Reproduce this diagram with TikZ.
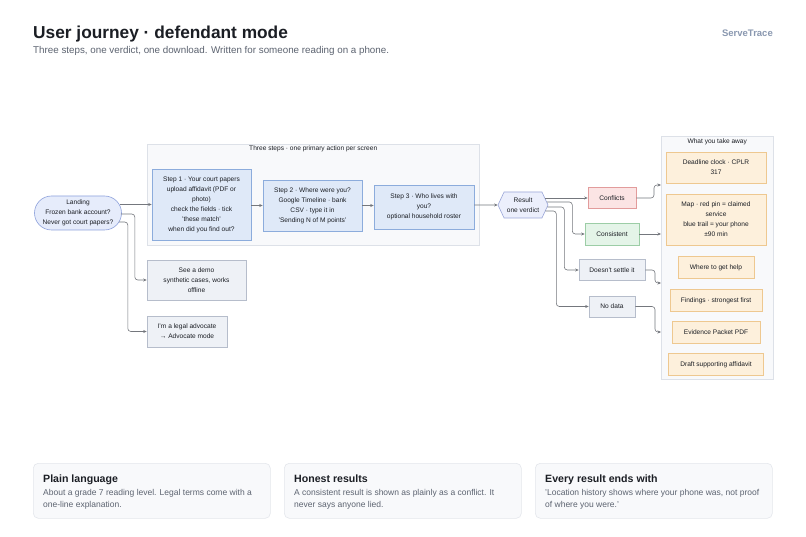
\documentclass[tikz,border=0pt]{standalone}
\usepackage{fontspec}
\setmainfont{Liberation Sans}
\usetikzlibrary{positioning,arrows.meta,calc,shapes.symbols}

\definecolor{ink}{HTML}{1B1E24}
\definecolor{subgrey}{HTML}{5C6370}
\definecolor{brand}{HTML}{8A98B0}
\definecolor{arrowc}{HTML}{74777D}
\definecolor{groupfill}{HTML}{F8F9FB}
\definecolor{groupline}{HTML}{DDE1E8}
\definecolor{landfill}{HTML}{E6ECFB}
\definecolor{landline}{HTML}{8EA2DC}
\definecolor{stepfill}{HTML}{DFE9F8}
\definecolor{stepline}{HTML}{8CACDC}
\definecolor{resfill}{HTML}{ECEFFC}
\definecolor{resline}{HTML}{9AA6D8}
\definecolor{redfill}{HTML}{FBE4E4}
\definecolor{redline}{HTML}{E29C9C}
\definecolor{greenfill}{HTML}{E4F4E8}
\definecolor{greenline}{HTML}{9CCDA6}
\definecolor{greyfill}{HTML}{EEF1F6}
\definecolor{greyline}{HTML}{B6BDCB}
\definecolor{takefill}{HTML}{FDF0DC}
\definecolor{takeline}{HTML}{EEC890}
\definecolor{cardline}{HTML}{E4E7EC}

\tikzset{
  box/.style={draw, line width=0.6pt, text=ink, align=center, inner sep=1pt,
    font=\fontsize{6.6}{10}\selectfont},
  stepbox/.style={box, fill=stepfill, draw=stepline},
  neutral/.style={box, fill=greyfill, draw=greyline},
  takebox/.style={box, fill=takefill, draw=takeline},
  group/.style={draw=groupline, fill=groupfill, line width=0.5pt, inner sep=0},
  grouplbl/.style={text=ink, inner sep=0, font=\fontsize{6.6}{8}\selectfont},
  flow/.style={draw=arrowc, line width=0.6pt, rounded corners=3pt,
    -{Stealth[length=3.5pt,width=3pt]}},
  card/.style={draw=cardline, fill=groupfill, rounded corners=5pt, line width=0.6pt}
}

\begin{document}
\begin{tikzpicture}[x=1pt,y=-1pt]
  \useasboundingbox[fill=white] (0,0) rectangle (806,537);

  \node[anchor=base west, inner sep=0, text=ink, font=\fontsize{17.3}{20}\selectfont\bfseries] (title) at (33,39) {User journey · defendant mode};
  \node[anchor=base west, inner sep=0, text=subgrey, font=\fontsize{9.8}{11}\selectfont] (subtitle) at (33,54) {Three steps, one verdict, one download. Written for someone reading on a phone.};
  \node[anchor=base east, inner sep=0, text=brand, font=\fontsize{9.5}{11}\selectfont\bfseries] (brand) at (773,37) {ServeTrace};

  \node[group, anchor=north west, minimum width=332, minimum height=101] (steps) at (147,144) {};
  \node[grouplbl] (stepslbl) at ($(steps.north)+(0,5)$) {Three steps · one primary action per screen};
  \node[group, anchor=north west, minimum width=112, minimum height=243] (take) at (661,136) {};
  \node[grouplbl] (takelbl) at ($(take.north)+(0,6)$) {What you take away};

  \node[box, rounded corners=17pt, fill=landfill, draw=landline, minimum width=87, minimum height=34] (landing) at (78,213) {Landing\\Frozen bank account?\\Never got court papers?};
  \node[stepbox, minimum width=99, minimum height=71] (step1) at (201.5,204.5) {Step 1 · Your court papers\\upload affidavit (PDF or\\photo)\\check the fields · tick\\'these match'\\when did you find out?};
  \node[stepbox, minimum width=99, minimum height=51] (step2) at (312.5,205.5) {Step 2 · Where were you?\\Google Timeline · bank\\CSV · type it in\\'Sending N of M points'};
  \node[stepbox, minimum width=100, minimum height=44] (step3) at (424,207) {Step 3 · Who lives with\\you?\\optional household roster};
  \node[box, signal, signal to=west and east, signal pointer angle=130, fill=resfill, draw=resline, minimum width=50, minimum height=26] (result) at (523,205) {Result\\one verdict};

  \node[box, fill=redfill, draw=redline, minimum width=48, minimum height=21] (conflicts) at (612,198) {Conflicts};
  \node[box, fill=greenfill, draw=greenline, minimum width=54, minimum height=22] (consistent) at (612,234) {Consistent};
  \node[neutral, minimum width=66, minimum height=21] (unsure) at (612,270) {Doesn't settle it};
  \node[neutral, minimum width=46, minimum height=21] (nodata) at (612,306.5) {No data};

  \node[neutral, minimum width=99, minimum height=40] (demo) at (196.5,280) {See a demo\\synthetic cases, works\\offline};
  \node[neutral, minimum width=80, minimum height=31] (advocate) at (187,331.5) {I'm a legal advocate\\→ Advocate mode};

  \node[takebox, minimum width=100, minimum height=31] (deadline) at (716,167.5) {Deadline clock · CPLR\\317};
  \node[takebox, minimum width=100, minimum height=51] (map) at (716,219.5) {Map · red pin = claimed\\service\\blue trail = your phone\\±90 min};
  \foreach \n/\y/\w/\t in {help/267.5/76/Where to get help, findings/300.5/92/Findings · strongest first,
      packet/332.5/88/Evidence Packet PDF, draft/364.5/95/Draft supporting affidavit}{
    \node[takebox, minimum width=\w, minimum height=22] (\n) at (716,\y) {\t};
  }

  \draw[flow, shorten <=-2pt] (landing.east |- step1) -- (step1);
  \draw[flow] ($(landing.east)+(-1,1)$) -- ++(14,0) |- (demo);
  \draw[flow] ($(landing.east)+(-3,9)$) -- ++(9,0) |- (advocate);
  \draw[flow] (step1.east |- step2) -- (step2);
  \draw[flow] (step2.east) -- (step2.east -| step3.west);
  \draw[flow] (step3.east |- result) -- (result);

  \draw[flow] ($(result.east |- conflicts)+(-3,0)$) -- (conflicts);
  \draw[flow] ($(result.east)+(-1.5,-3)$) -- ++(25.5,0) |- (consistent);
  \draw[flow] ($(result.east)+(-1,2)$) -- ++(17,0) |- (unsure);
  \draw[flow] ($(result.east)+(-3,6)$) -- ++(11,0) |- (nodata);

  \foreach \i in {1,...,4}
    \coordinate (in\i) at ($(take.north west)+(0,49*\i)$);
  \draw[flow] (conflicts.east) -| ($(in1)+(-7,0)$) -- (in1);
  \draw[flow] (consistent.east) -- (in2);
  \draw[flow] (unsure.east) -| ($(in3)+(-6,0)$) -- (in3);
  \draw[flow] (nodata.east) -| ($(in4)+(-6,0)$) -- (in4);

  \foreach \x/\t/\b [count=\i] in {33/Plain language/{About a grade 7 reading level. Legal terms come with a\\one-line explanation.},
      284/Honest results/{A consistent result is shown as plainly as a conflict. It\\never says anyone lied.},
      535/Every result ends with/{'Location history shows where your phone was, not proof\\of where you were.'}}{
    \node[card, anchor=north west, minimum width=237, minimum height=55, inner sep=0] (card\i) at (\x,463) {};
    \node[anchor=base west, inner sep=0, text=ink, font=\fontsize{10.6}{12}\selectfont\bfseries] (cardtitle\i) at ($(card\i.north west)+(10,19)$) {\t};
    \node[anchor=north west, inner sep=0, align=left, text=subgrey, font=\fontsize{8.5}{12}\selectfont] (cardtext\i) at ($(card\i.north west)+(10,26)$) {\b};
  }
\end{tikzpicture}
\end{document}
